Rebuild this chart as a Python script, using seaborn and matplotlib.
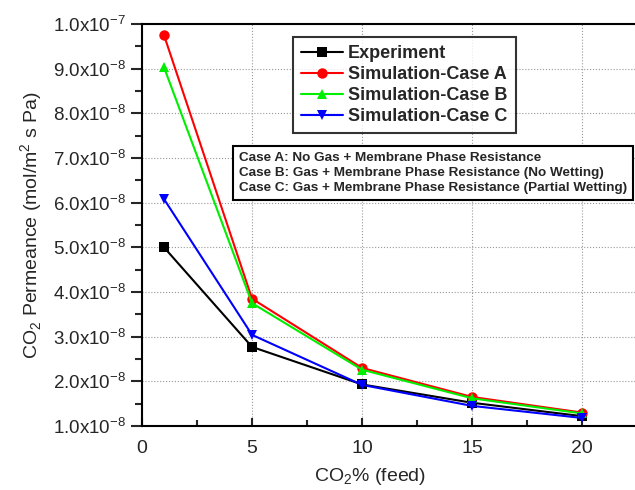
import matplotlib
matplotlib.use("Agg")
import matplotlib.pyplot as plt
import seaborn as sns
import pandas as pd

x_feed = [1, 5, 10, 15, 20]
experiment = [5.0e-8, 2.77e-8, 1.93e-8, 1.52e-8, 1.22e-8]
case_a = [9.75e-8, 3.85e-8, 2.30e-8, 1.65e-8, 1.30e-8]
case_b = [9.03e-8, 3.75e-8, 2.26e-8, 1.62e-8, 1.28e-8]
case_c = [6.08e-8, 3.04e-8, 1.92e-8, 1.45e-8, 1.18e-8]
series_names = ["Experiment", "Simulation-Case A", "Simulation-Case B", "Simulation-Case C"]
ytick_vals = [1e-8, 2e-8, 3e-8, 4e-8, 5e-8, 6e-8, 7e-8, 8e-8, 9e-8, 1e-7]
ytick_labels = [r"$\mathregular{1.0x10^{-8}}$", r"$\mathregular{2.0x10^{-8}}$", r"$\mathregular{3.0x10^{-8}}$",
                r"$\mathregular{4.0x10^{-8}}$", r"$\mathregular{5.0x10^{-8}}$", r"$\mathregular{6.0x10^{-8}}$",
                r"$\mathregular{7.0x10^{-8}}$", r"$\mathregular{8.0x10^{-8}}$", r"$\mathregular{9.0x10^{-8}}$",
                r"$\mathregular{1.0x10^{-7}}$"]
xtick_vals = [0, 5, 10, 15, 20]

rows = []
for name, vals in zip(series_names, [experiment, case_a, case_b, case_c]):
    for xv, yv in zip(x_feed, vals):
        rows.append({"x": xv, "y": yv, "series": name})
df = pd.DataFrame(rows)

sns.set_style("white")
plt.rcParams["font.family"] = ["Liberation Sans", "DejaVu Sans"]
plt.rcParams["mathtext.fontset"] = "custom"
plt.rcParams["mathtext.rm"] = "Liberation Sans"

fig = plt.figure(figsize=(6.35, 4.9), dpi=100)
ax = fig.add_axes([142/635, 64/490, 493/635, 402/490])

palette = {"Experiment": "#000000", "Simulation-Case A": "#ff0000",
           "Simulation-Case B": "#00ee00", "Simulation-Case C": "#0000ff"}
markers = {"Experiment": "s", "Simulation-Case A": "o",
           "Simulation-Case B": "^", "Simulation-Case C": "v"}
sns.lineplot(data=df, x="x", y="y", hue="series", style="series", palette=palette,
             markers=markers, dashes=False, markersize=7.5, linewidth=1.5,
             markeredgewidth=0, ax=ax, legend=True)

ax.set_xlim(0, 22.4)
ax.set_ylim(1e-8, 1e-7)
ax.set_xticks(xtick_vals)
ax.set_xticks([2.5, 7.5, 12.5, 17.5], minor=True)
ax.set_yticks(ytick_vals)
ax.set_yticklabels(ytick_labels)
ax.set_yticks([1.5e-8 + i*1e-8 for i in range(9)], minor=True)
ax.tick_params(axis="x", which="both", direction="in", labelsize=14, pad=10)
ax.tick_params(axis="x", which="major", length=6, width=1.5)
ax.tick_params(axis="x", which="minor", length=4, width=1.5)
ax.tick_params(axis="y", which="both", direction="out", labelsize=13.5)
ax.tick_params(axis="y", which="major", length=8, width=1.5)
ax.tick_params(axis="y", which="minor", length=5, width=1.5)
ax.tick_params(bottom=True, left=True, which="both")
ax.grid(True, which="major", linestyle=":", color="#999999", linewidth=0.8)
for s in ["left", "bottom", "top"]:
    ax.spines[s].set_linewidth(1.5)
    ax.spines[s].set_color("black")
ax.spines["right"].set_visible(False)

ax.set_xlabel(r"CO$_2$% (feed)", fontsize=14, labelpad=4)
ax.xaxis.set_label_coords((370 - 142) / 493, -40 / 402)
ax.set_ylabel(r"CO$_2$ Permeance (mol/m$^2$ s Pa)", fontsize=14, labelpad=6)

leg = ax.legend(loc="upper left", bbox_to_anchor=(293/635, 1 - 37/490),
                bbox_transform=fig.transFigure, frameon=True, fancybox=False,
                prop={"weight": "bold", "size": 13}, handlelength=2.3,
                borderpad=0.45, labelspacing=0.22, handletextpad=0.3, borderaxespad=0)
leg.get_frame().set_edgecolor("black")
leg.get_frame().set_linewidth(1.5)

fig.text(239/635, 1 - 173/490,
         "Case A: No Gas + Membrane Phase Resistance\n"
         "Case B: Gas + Membrane Phase Resistance (No Wetting)\n"
         "Case C: Gas + Membrane Phase Resistance (Partial Wetting)",
         fontsize=9.7, fontweight="bold", va="center", ha="left", linespacing=1.3,
         bbox=dict(boxstyle="square,pad=0.45", facecolor="white", edgecolor="black", linewidth=1.5))

fig.savefig("out.png", dpi=100)
